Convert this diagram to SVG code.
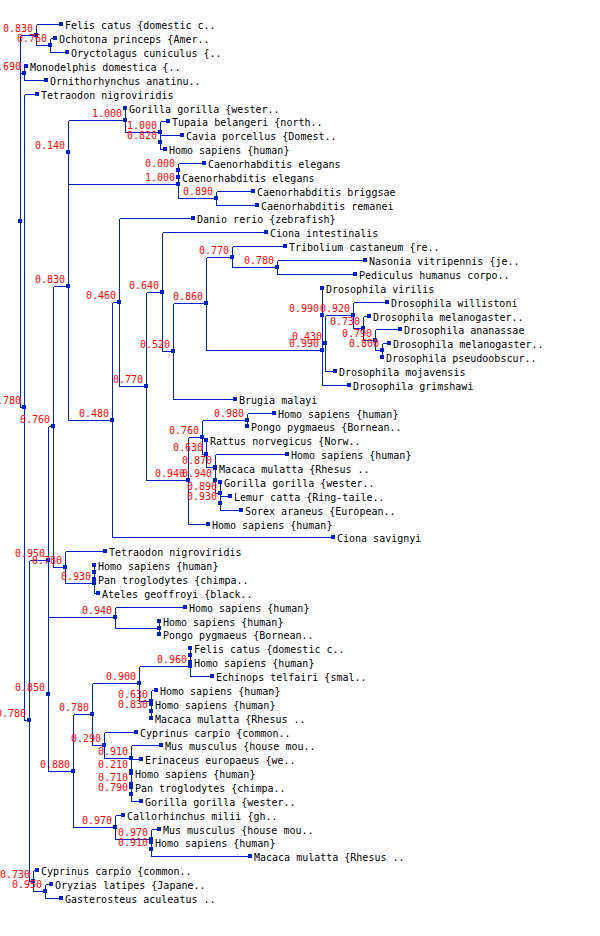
<svg xmlns="http://www.w3.org/2000/svg" width="600" height="936" viewBox="0 0 600 936">
<style>
.c{fill:none;stroke:#0020c8;stroke-width:1;shape-rendering:crispEdges}
.m{fill:#0020c8;shape-rendering:crispEdges}
.t{font-family:"DejaVu Sans Mono","Liberation Mono",monospace;font-size:10px;fill:#000}
.b{font-family:"DejaVu Sans Mono","Liberation Mono",monospace;font-size:10px;fill:#f00;text-anchor:end}
</style>
<rect width="600" height="936" fill="#fff"/>
<g id="connectors" class="c">
<path d="M20.5 35.5V407.5M20.5 35.5H36.5M20.5 73.5H24.5M20.5 407.5H24.5"/>
<path d="M36.5 24.5V45.5M36.5 24.5H61.5M36.5 45.5H50.5"/>
<path d="M50.5 38.5V52.5M50.5 38.5H55.5M50.5 52.5H67.5"/>
<path d="M24.5 66.5V80.5M24.5 66.5H26.5M24.5 80.5H46.5"/>
<path d="M24.5 94.5V720.5M24.5 94.5H37.5M24.5 720.5H29.5"/>
<path d="M29.5 560.5V881.5M29.5 560.5H48.5M29.5 881.5H33.5"/>
<path d="M33.5 870.5V891.5H45.5M33.5 870.5H37.5"/>
<path d="M45.5 884.5V898.5H61.5M45.5 884.5H51.5"/>
<path d="M48.5 426.5V694.5M48.5 426.5H53.5"/>
<path d="M53.5 286.5V567.5H65.5M53.5 286.5H68.5"/>
<path d="M68.5 152.5V420.5H112.5"/>
<path d="M68.5 120.5V184.5H178.5M68.5 120.5H125.5"/>
<path d="M125.5 108.5V132.5H160.5"/>
<path d="M160.5 121.5V142.5M160.5 121.5H168.5"/>
<path d="M160.5 135.5V149.5H165.5M160.5 135.5H182.5"/>
<path d="M178.5 170.5V198.5H216.5"/>
<path d="M178.5 163.5V177.5M178.5 163.5H204.5"/>
<path d="M216.5 191.5V205.5H257.5M216.5 191.5H253.5"/>
<path d="M112.5 302.5V537.5H333.5M112.5 302.5H119.5"/>
<path d="M119.5 218.5V386.5H146.5M119.5 218.5H193.5"/>
<path d="M146.5 292.5V480.5H188.5M146.5 292.5H162.5"/>
<path d="M162.5 232.5V351.5H173.5M162.5 232.5H266.5"/>
<path d="M173.5 303.5V399.5H235.5M173.5 303.5H206.5"/>
<path d="M206.5 257.5V350.5H322.5M206.5 257.5H232.5"/>
<path d="M232.5 246.5V267.5H277.5M232.5 246.5H285.5"/>
<path d="M277.5 260.5V274.5H355.5M277.5 260.5H365.5"/>
<path d="M322.5 315.5V385.5H349.5"/>
<path d="M322.5 288.5V343.5H325.5"/>
<path d="M325.5 315.5V371.5H335.5M325.5 315.5H353.5"/>
<path d="M353.5 302.5V328.5H363.5M353.5 302.5H387.5"/>
<path d="M363.5 316.5V340.5H375.5M363.5 316.5H369.5"/>
<path d="M375.5 329.5V350.5H382.5M375.5 329.5H400.5"/>
<path d="M382.5 343.5V357.5M382.5 343.5H389.5"/>
<path d="M188.5 437.5V524.5H208.5M188.5 437.5H202.5"/>
<path d="M202.5 420.5V454.5H206.5M202.5 420.5H247.5"/>
<path d="M247.5 413.5V426.5M247.5 413.5H274.5"/>
<path d="M206.5 440.5V467.5H215.5"/>
<path d="M215.5 454.5V480.5M215.5 454.5H287.5"/>
<path d="M215.5 468.5V493.5H220.5"/>
<path d="M220.5 482.5V503.5"/>
<path d="M220.5 496.5V510.5H241.5M220.5 496.5H230.5"/>
<path d="M65.5 551.5V583.5H94.5M65.5 551.5H105.5"/>
<path d="M94.5 572.5V593.5H98.5"/>
<path d="M94.5 565.5V579.5"/>
<path d="M48.5 617.5V771.5H73.5M48.5 617.5H115.5"/>
<path d="M115.5 607.5V628.5H159.5M115.5 607.5H185.5"/>
<path d="M159.5 621.5V634.5"/>
<path d="M73.5 714.5V827.5H115.5M73.5 714.5H92.5"/>
<path d="M92.5 683.5V745.5H104.5M92.5 683.5H139.5"/>
<path d="M139.5 666.5V701.5H151.5M139.5 666.5H190.5"/>
<path d="M190.5 655.5V676.5H212.5"/>
<path d="M190.5 648.5V662.5"/>
<path d="M151.5 690.5V711.5M151.5 690.5H156.5"/>
<path d="M151.5 704.5V718.5"/>
<path d="M104.5 732.5V758.5H131.5M104.5 732.5H136.5"/>
<path d="M131.5 745.5V771.5M131.5 745.5H161.5"/>
<path d="M131.5 759.5V784.5M131.5 759.5H141.5"/>
<path d="M131.5 773.5V794.5"/>
<path d="M131.5 787.5V801.5H141.5"/>
<path d="M115.5 815.5V839.5H151.5M115.5 815.5H123.5"/>
<path d="M151.5 829.5V849.5M151.5 829.5H159.5"/>
<path d="M151.5 842.5V856.5H250.5"/>
</g>
<g id="internal-nodes">
<g id="n-root"><rect class="m" x="18" y="219" width="4" height="4"/></g>
<g id="n-a"><text class="b" x="33" y="31.5">0.830</text><rect class="m" x="34" y="33" width="4" height="4"/></g>
<g id="n-b"><text class="b" x="47" y="41.5">0.760</text><rect class="m" x="48" y="43" width="4" height="4"/></g>
<g id="n-c"><text class="b" x="21" y="69.5">0.690</text><rect class="m" x="22" y="71" width="4" height="4"/></g>
<g id="n-x"><text class="b" x="21" y="403.5">0.780</text><rect class="m" x="22" y="405" width="4" height="4"/></g>
<g id="n-y"><text class="b" x="26" y="716.5">0.780</text><rect class="m" x="27" y="718" width="4" height="4"/></g>
<g id="n-z"><text class="b" x="30" y="877.5">0.730</text><rect class="m" x="31" y="879" width="4" height="4"/></g>
<g id="n-w"><text class="b" x="42" y="887.5">0.950</text><rect class="m" x="43" y="889" width="4" height="4"/></g>
<g id="n-950"><text class="b" x="45" y="556.5">0.950</text><rect class="m" x="46" y="558" width="4" height="4"/></g>
<g id="n-760"><text class="b" x="50" y="422.5">0.760</text><rect class="m" x="51" y="424" width="4" height="4"/></g>
<g id="n-830"><text class="b" x="65" y="282.5">0.830</text><rect class="m" x="66" y="284" width="4" height="4"/></g>
<g id="n-140"><text class="b" x="65" y="148.5">0.140</text><rect class="m" x="66" y="150" width="4" height="4"/></g>
<g id="n-1000a"><text class="b" x="122" y="116.5">1.000</text><rect class="m" x="123" y="118" width="4" height="4"/></g>
<g id="n-1000b"><text class="b" x="157" y="128.5">1.000</text><rect class="m" x="158" y="130" width="4" height="4"/></g>
<g id="n-820"><text class="b" x="157" y="138.5">0.820</text><rect class="m" x="158" y="140" width="4" height="4"/></g>
<g id="n-1000c"><text class="b" x="175" y="180.5">1.000</text><rect class="m" x="176" y="182" width="4" height="4"/></g>
<g id="n-000"><text class="b" x="175" y="166.5">0.000</text><rect class="m" x="176" y="168" width="4" height="4"/></g>
<g id="n-890"><text class="b" x="213" y="194.5">0.890</text><rect class="m" x="214" y="196" width="4" height="4"/></g>
<g id="n-480"><text class="b" x="109" y="416.5">0.480</text><rect class="m" x="110" y="418" width="4" height="4"/></g>
<g id="n-460"><text class="b" x="116" y="298.5">0.460</text><rect class="m" x="117" y="300" width="4" height="4"/></g>
<g id="n-770a"><text class="b" x="143" y="382.5">0.770</text><rect class="m" x="144" y="384" width="4" height="4"/></g>
<g id="n-640"><text class="b" x="159" y="288.5">0.640</text><rect class="m" x="160" y="290" width="4" height="4"/></g>
<g id="n-520"><text class="b" x="170" y="347.5">0.520</text><rect class="m" x="171" y="349" width="4" height="4"/></g>
<g id="n-860"><text class="b" x="203" y="299.5">0.860</text><rect class="m" x="204" y="301" width="4" height="4"/></g>
<g id="n-770b"><text class="b" x="229" y="253.5">0.770</text><rect class="m" x="230" y="255" width="4" height="4"/></g>
<g id="n-780"><text class="b" x="274" y="263.5">0.780</text><rect class="m" x="275" y="265" width="4" height="4"/></g>
<g id="n-990b"><text class="b" x="319" y="346.5">0.990</text><rect class="m" x="320" y="348" width="4" height="4"/></g>
<g id="n-990a"><text class="b" x="319" y="311.5">0.990</text><rect class="m" x="320" y="313" width="4" height="4"/></g>
<g id="n-430"><text class="b" x="322" y="339.5">0.430</text><rect class="m" x="323" y="341" width="4" height="4"/></g>
<g id="n-920"><text class="b" x="350" y="311.5">0.920</text><rect class="m" x="351" y="313" width="4" height="4"/></g>
<g id="n-730"><text class="b" x="360" y="324.5">0.730</text><rect class="m" x="361" y="326" width="4" height="4"/></g>
<g id="n-790"><text class="b" x="372" y="336.5">0.790</text><rect class="m" x="373" y="338" width="4" height="4"/></g>
<g id="n-800"><text class="b" x="379" y="346.5">0.800</text><rect class="m" x="380" y="348" width="4" height="4"/></g>
<g id="n-940a"><text class="b" x="185" y="476.5">0.940</text><rect class="m" x="186" y="478" width="4" height="4"/></g>
<g id="n-760b"><text class="b" x="199" y="433.5">0.760</text><rect class="m" x="200" y="435" width="4" height="4"/></g>
<g id="n-980"><text class="b" x="244" y="416.5">0.980</text><rect class="m" x="245" y="418" width="4" height="4"/></g>
<g id="n-630"><text class="b" x="203" y="450.5">0.630</text><rect class="m" x="204" y="452" width="4" height="4"/></g>
<g id="n-870"><text class="b" x="212" y="463.5">0.870</text><rect class="m" x="213" y="465" width="4" height="4"/></g>
<g id="n-940b"><text class="b" x="212" y="476.5">0.940</text><rect class="m" x="213" y="478" width="4" height="4"/></g>
<g id="n-890b"><text class="b" x="217" y="489.5">0.890</text><rect class="m" x="218" y="491" width="4" height="4"/></g>
<g id="n-930"><text class="b" x="217" y="499.5">0.930</text><rect class="m" x="218" y="501" width="4" height="4"/></g>
<g id="n-780d"><text class="b" x="62" y="563.5">0.780</text><rect class="m" x="63" y="565" width="4" height="4"/></g>
<g id="n-930c"><text class="b" x="91" y="579.5">0.930</text><rect class="m" x="92" y="581" width="4" height="4"/></g>
<g id="n-hp"><rect class="m" x="92" y="570" width="4" height="4"/></g>
<g id="n-850"><text class="b" x="45" y="690.5">0.850</text><rect class="m" x="46" y="692" width="4" height="4"/></g>
<g id="n-940c"><text class="b" x="112" y="613.5">0.940</text><rect class="m" x="113" y="615" width="4" height="4"/></g>
<g id="n-hp2"><rect class="m" x="157" y="626" width="4" height="4"/></g>
<g id="n-880"><text class="b" x="70" y="767.5">0.880</text><rect class="m" x="71" y="769" width="4" height="4"/></g>
<g id="n-780c"><text class="b" x="89" y="710.5">0.780</text><rect class="m" x="90" y="712" width="4" height="4"/></g>
<g id="n-900"><text class="b" x="136" y="679.5">0.900</text><rect class="m" x="137" y="681" width="4" height="4"/></g>
<g id="n-960"><text class="b" x="187" y="662.5">0.960</text><rect class="m" x="188" y="664" width="4" height="4"/></g>
<g id="n-fh"><rect class="m" x="188" y="653" width="4" height="4"/></g>
<g id="n-630b"><text class="b" x="148" y="697.5">0.630</text><rect class="m" x="149" y="699" width="4" height="4"/></g>
<g id="n-830b"><text class="b" x="148" y="707.5">0.830</text><rect class="m" x="149" y="709" width="4" height="4"/></g>
<g id="n-290"><text class="b" x="101" y="741.5">0.290</text><rect class="m" x="102" y="743" width="4" height="4"/></g>
<g id="n-910"><text class="b" x="128" y="754.5">0.910</text><rect class="m" x="129" y="756" width="4" height="4"/></g>
<g id="n-210"><text class="b" x="128" y="767.5">0.210</text><rect class="m" x="129" y="769" width="4" height="4"/></g>
<g id="n-710"><text class="b" x="128" y="780.5">0.710</text><rect class="m" x="129" y="782" width="4" height="4"/></g>
<g id="n-790c"><text class="b" x="128" y="790.5">0.790</text><rect class="m" x="129" y="792" width="4" height="4"/></g>
<g id="n-970"><text class="b" x="112" y="823.5">0.970</text><rect class="m" x="113" y="825" width="4" height="4"/></g>
<g id="n-970b"><text class="b" x="148" y="835.5">0.970</text><rect class="m" x="149" y="837" width="4" height="4"/></g>
<g id="n-910b"><text class="b" x="148" y="845.5">0.910</text><rect class="m" x="149" y="847" width="4" height="4"/></g>
</g>
<g id="leaves">
<g id="leaf00"><rect class="m" x="59" y="22" width="4" height="4"/><text class="t" x="65" y="28.5">Felis catus {domestic c..</text></g>
<g id="leaf01"><rect class="m" x="53" y="36" width="4" height="4"/><text class="t" x="59" y="42.5">Ochotona princeps {Amer..</text></g>
<g id="leaf02"><rect class="m" x="65" y="50" width="4" height="4"/><text class="t" x="71" y="56.5">Oryctolagus cuniculus {..</text></g>
<g id="leaf03"><rect class="m" x="24" y="64" width="4" height="4"/><text class="t" x="30" y="70.5">Monodelphis domestica {..</text></g>
<g id="leaf04"><rect class="m" x="44" y="78" width="4" height="4"/><text class="t" x="50" y="84.5">Ornithorhynchus anatinu..</text></g>
<g id="leaf05"><rect class="m" x="35" y="92" width="4" height="4"/><text class="t" x="41" y="98.5">Tetraodon nigroviridis</text></g>
<g id="leaf06"><rect class="m" x="123" y="106" width="4" height="4"/><text class="t" x="129" y="112.5">Gorilla gorilla {wester..</text></g>
<g id="leaf07"><rect class="m" x="166" y="119" width="4" height="4"/><text class="t" x="172" y="125.5">Tupaia belangeri {north..</text></g>
<g id="leaf08"><rect class="m" x="180" y="133" width="4" height="4"/><text class="t" x="186" y="139.5">Cavia porcellus {Domest..</text></g>
<g id="leaf09"><rect class="m" x="163" y="147" width="4" height="4"/><text class="t" x="169" y="153.5">Homo sapiens {human}</text></g>
<g id="leaf10"><rect class="m" x="202" y="161" width="4" height="4"/><text class="t" x="208" y="167.5">Caenorhabditis elegans</text></g>
<g id="leaf11"><rect class="m" x="176" y="175" width="4" height="4"/><text class="t" x="182" y="181.5">Caenorhabditis elegans</text></g>
<g id="leaf12"><rect class="m" x="251" y="189" width="4" height="4"/><text class="t" x="257" y="195.5">Caenorhabditis briggsae</text></g>
<g id="leaf13"><rect class="m" x="255" y="203" width="4" height="4"/><text class="t" x="261" y="209.5">Caenorhabditis remanei</text></g>
<g id="leaf14"><rect class="m" x="191" y="216" width="4" height="4"/><text class="t" x="197" y="222.5">Danio rerio {zebrafish}</text></g>
<g id="leaf15"><rect class="m" x="264" y="230" width="4" height="4"/><text class="t" x="270" y="236.5">Ciona intestinalis</text></g>
<g id="leaf16"><rect class="m" x="283" y="244" width="4" height="4"/><text class="t" x="289" y="250.5">Tribolium castaneum {re..</text></g>
<g id="leaf17"><rect class="m" x="363" y="258" width="4" height="4"/><text class="t" x="369" y="264.5">Nasonia vitripennis {je..</text></g>
<g id="leaf18"><rect class="m" x="353" y="272" width="4" height="4"/><text class="t" x="359" y="278.5">Pediculus humanus corpo..</text></g>
<g id="leaf19"><rect class="m" x="320" y="286" width="4" height="4"/><text class="t" x="326" y="292.5">Drosophila virilis</text></g>
<g id="leaf20"><rect class="m" x="385" y="300" width="4" height="4"/><text class="t" x="391" y="306.5">Drosophila willistoni</text></g>
<g id="leaf21"><rect class="m" x="367" y="314" width="4" height="4"/><text class="t" x="373" y="320.5">Drosophila melanogaster..</text></g>
<g id="leaf22"><rect class="m" x="398" y="327" width="4" height="4"/><text class="t" x="404" y="333.5">Drosophila ananassae</text></g>
<g id="leaf23"><rect class="m" x="387" y="341" width="4" height="4"/><text class="t" x="393" y="347.5">Drosophila melanogaster..</text></g>
<g id="leaf24"><rect class="m" x="380" y="355" width="4" height="4"/><text class="t" x="386" y="361.5">Drosophila pseudoobscur..</text></g>
<g id="leaf25"><rect class="m" x="333" y="369" width="4" height="4"/><text class="t" x="339" y="375.5">Drosophila mojavensis</text></g>
<g id="leaf26"><rect class="m" x="347" y="383" width="4" height="4"/><text class="t" x="353" y="389.5">Drosophila grimshawi</text></g>
<g id="leaf27"><rect class="m" x="233" y="397" width="4" height="4"/><text class="t" x="239" y="403.5">Brugia malayi</text></g>
<g id="leaf28"><rect class="m" x="272" y="411" width="4" height="4"/><text class="t" x="278" y="417.5">Homo sapiens {human}</text></g>
<g id="leaf29"><rect class="m" x="245" y="424" width="4" height="4"/><text class="t" x="251" y="430.5">Pongo pygmaeus {Bornean..</text></g>
<g id="leaf30"><rect class="m" x="204" y="438" width="4" height="4"/><text class="t" x="210" y="444.5">Rattus norvegicus {Norw..</text></g>
<g id="leaf31"><rect class="m" x="285" y="452" width="4" height="4"/><text class="t" x="291" y="458.5">Homo sapiens {human}</text></g>
<g id="leaf32"><rect class="m" x="213" y="466" width="4" height="4"/><text class="t" x="219" y="472.5">Macaca mulatta {Rhesus ..</text></g>
<g id="leaf33"><rect class="m" x="218" y="480" width="4" height="4"/><text class="t" x="224" y="486.5">Gorilla gorilla {wester..</text></g>
<g id="leaf34"><rect class="m" x="228" y="494" width="4" height="4"/><text class="t" x="234" y="500.5">Lemur catta {Ring-taile..</text></g>
<g id="leaf35"><rect class="m" x="239" y="508" width="4" height="4"/><text class="t" x="245" y="514.5">Sorex araneus {European..</text></g>
<g id="leaf36"><rect class="m" x="206" y="522" width="4" height="4"/><text class="t" x="212" y="528.5">Homo sapiens {human}</text></g>
<g id="leaf37"><rect class="m" x="331" y="535" width="4" height="4"/><text class="t" x="337" y="541.5">Ciona savignyi</text></g>
<g id="leaf38"><rect class="m" x="103" y="549" width="4" height="4"/><text class="t" x="109" y="555.5">Tetraodon nigroviridis</text></g>
<g id="leaf39"><rect class="m" x="92" y="563" width="4" height="4"/><text class="t" x="98" y="569.5">Homo sapiens {human}</text></g>
<g id="leaf40"><rect class="m" x="92" y="577" width="4" height="4"/><text class="t" x="98" y="583.5">Pan troglodytes {chimpa..</text></g>
<g id="leaf41"><rect class="m" x="96" y="591" width="4" height="4"/><text class="t" x="102" y="597.5">Ateles geoffroyi {black..</text></g>
<g id="leaf42"><rect class="m" x="183" y="605" width="4" height="4"/><text class="t" x="189" y="611.5">Homo sapiens {human}</text></g>
<g id="leaf43"><rect class="m" x="157" y="619" width="4" height="4"/><text class="t" x="163" y="625.5">Homo sapiens {human}</text></g>
<g id="leaf44"><rect class="m" x="157" y="632" width="4" height="4"/><text class="t" x="163" y="638.5">Pongo pygmaeus {Bornean..</text></g>
<g id="leaf45"><rect class="m" x="188" y="646" width="4" height="4"/><text class="t" x="194" y="652.5">Felis catus {domestic c..</text></g>
<g id="leaf46"><rect class="m" x="188" y="660" width="4" height="4"/><text class="t" x="194" y="666.5">Homo sapiens {human}</text></g>
<g id="leaf47"><rect class="m" x="210" y="674" width="4" height="4"/><text class="t" x="216" y="680.5">Echinops telfairi {smal..</text></g>
<g id="leaf48"><rect class="m" x="154" y="688" width="4" height="4"/><text class="t" x="160" y="694.5">Homo sapiens {human}</text></g>
<g id="leaf49"><rect class="m" x="149" y="702" width="4" height="4"/><text class="t" x="155" y="708.5">Homo sapiens {human}</text></g>
<g id="leaf50"><rect class="m" x="149" y="716" width="4" height="4"/><text class="t" x="155" y="722.5">Macaca mulatta {Rhesus ..</text></g>
<g id="leaf51"><rect class="m" x="134" y="730" width="4" height="4"/><text class="t" x="140" y="736.5">Cyprinus carpio {common..</text></g>
<g id="leaf52"><rect class="m" x="159" y="743" width="4" height="4"/><text class="t" x="165" y="749.5">Mus musculus {house mou..</text></g>
<g id="leaf53"><rect class="m" x="139" y="757" width="4" height="4"/><text class="t" x="145" y="763.5">Erinaceus europaeus {we..</text></g>
<g id="leaf54"><rect class="m" x="129" y="771" width="4" height="4"/><text class="t" x="135" y="777.5">Homo sapiens {human}</text></g>
<g id="leaf55"><rect class="m" x="129" y="785" width="4" height="4"/><text class="t" x="135" y="791.5">Pan troglodytes {chimpa..</text></g>
<g id="leaf56"><rect class="m" x="139" y="799" width="4" height="4"/><text class="t" x="145" y="805.5">Gorilla gorilla {wester..</text></g>
<g id="leaf57"><rect class="m" x="121" y="813" width="4" height="4"/><text class="t" x="127" y="819.5">Callorhinchus milii {gh..</text></g>
<g id="leaf58"><rect class="m" x="157" y="827" width="4" height="4"/><text class="t" x="163" y="833.5">Mus musculus {house mou..</text></g>
<g id="leaf59"><rect class="m" x="149" y="840" width="4" height="4"/><text class="t" x="155" y="846.5">Homo sapiens {human}</text></g>
<g id="leaf60"><rect class="m" x="248" y="854" width="4" height="4"/><text class="t" x="254" y="860.5">Macaca mulatta {Rhesus ..</text></g>
<g id="leaf61"><rect class="m" x="35" y="868" width="4" height="4"/><text class="t" x="41" y="874.5">Cyprinus carpio {common..</text></g>
<g id="leaf62"><rect class="m" x="49" y="882" width="4" height="4"/><text class="t" x="55" y="888.5">Oryzias latipes {Japane..</text></g>
<g id="leaf63"><rect class="m" x="59" y="896" width="4" height="4"/><text class="t" x="65" y="902.5">Gasterosteus aculeatus ..</text></g>
</g>
</svg>
